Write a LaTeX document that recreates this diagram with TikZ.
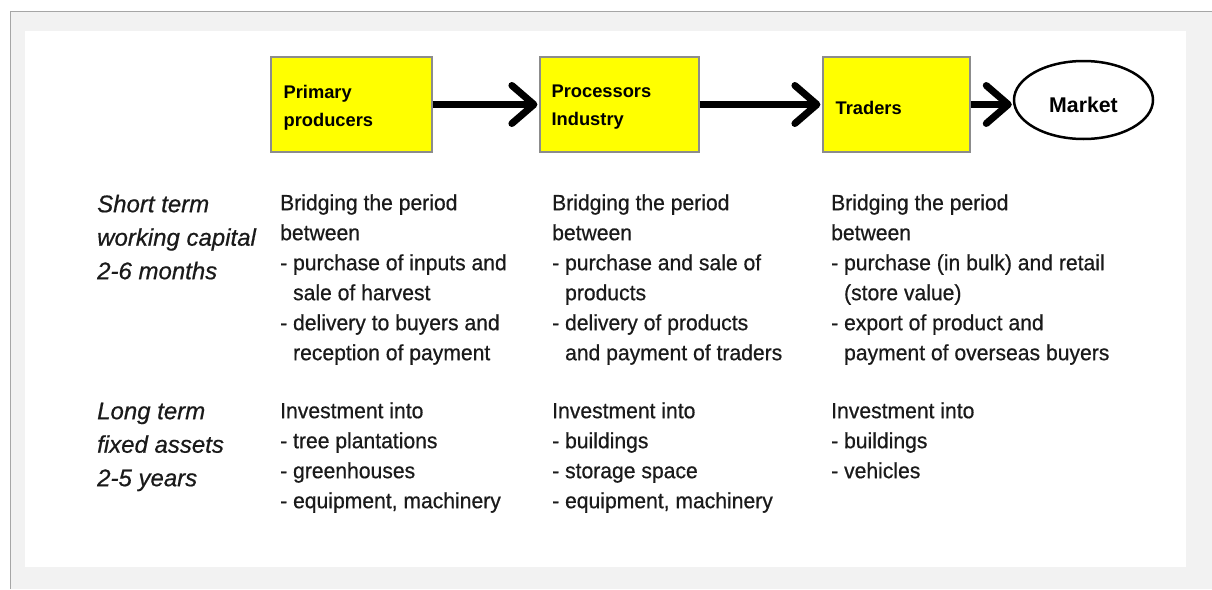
\documentclass[tikz,border=0pt]{standalone}
\usepackage{fontspec}
\setmainfont{Liberation Sans}
\newfontfamily\bodyfont[FakeStretch=0.96,FakeBold=0.6]{Liberation Sans}
\newfontfamily\termfont[FakeBold=0.6]{Liberation Sans Italic}
\usetikzlibrary{arrows.meta,shapes.geometric}
\definecolor{bggrey}{HTML}{F2F2F2}
\definecolor{edgegrey}{HTML}{A6A6A6}
\definecolor{boxedge}{HTML}{8C8C8C}
\definecolor{boxfill}{HTML}{FFFF00}
\definecolor{textgrey}{HTML}{1A1A1A}
\newcommand\firstline{\rule{0pt}{20pt}}
\newcommand\myind{\hphantom{- }}
\begin{document}
\begin{tikzpicture}[x=1pt,y=-1pt,
  stage/.style={draw=boxedge,fill=boxfill,line width=1.2pt,minimum height=95pt,inner sep=0pt},
  stagelabel/.style={anchor=west,inner sep=0pt,align=left,font=\bfseries\fontsize{18.3}{28}\selectfont},
  flow/.style={line width=7pt,-{Straight Barb[length=22pt,width=38pt,round]}},
  body/.style={anchor=north west,inner sep=0pt,align=left,text=textgrey,font=\bodyfont\fontsize{22}{30}\selectfont},
  term/.style={anchor=north west,inner sep=0pt,align=left,text=textgrey,font=\termfont\fontsize{24}{33.5}\selectfont}]
\useasboundingbox (0,0) rectangle (1212,589);
\fill[white] (0,0) rectangle (1212,589);
\fill[bggrey] (10.5,11.5) rectangle (1212,589);
\draw[edgegrey,line width=1.2pt] (10.5,589) -- (10.5,11.5) -- (1212,11.5);
\fill[white] (25,31) rectangle (1186,567);
% stages
\node[stage,minimum width=161pt] (pp) at (351.5,104.5) {};
\node[stage,minimum width=159pt] (pi) at (619.5,104.5) {};
\node[stage,minimum width=147pt] (tr) at (896.5,104.5) {};
\node[draw,ellipse,line width=2.5pt,minimum width=139pt,minimum height=78pt,inner sep=0pt] (mk) at (1083.5,100) {};
\node[inner sep=0pt,font=\bfseries\fontsize{21.3}{24}\selectfont] (mkl) at ([yshift=-4.5pt]mk.center) {Market};
\node[stagelabel] (ppl) at ([xshift=13pt,yshift=-3pt]pp.west) {Primary\\producers};
\node[stagelabel] (pil) at ([xshift=12pt,yshift=-3pt]pi.west) {Processors\\Industry};
\node[stagelabel] (trl) at ([xshift=13pt,yshift=-3pt]tr.west) {Traders};
\draw[flow] (pp.east) -- ([xshift=-2pt]pi.west);
\draw[flow] (pi.east) -- ([xshift=-2pt]tr.west);
\draw[flow] (tr.east) -- ([xshift=-1pt]mk.west |- tr.east);
% row labels
\node[term] (st) at (97,192) {\firstline Short term\\working capital\\2-6 months};
\node[term] (lt) at (97,399) {\firstline Long term\\fixed assets\\2-5 years};
% short term texts
\node[body] (s1) at (280,190) {\firstline Bridging the period\\between\\- purchase of inputs and\\\myind sale of harvest\\- delivery to buyers and\\\myind reception of payment};
\node[body] (s2) at (552,190) {\firstline Bridging the period\\between\\- purchase and sale of\\\myind products\\- delivery of products\\\myind and payment of traders};
\node[body] (s3) at (831,190) {\firstline Bridging the period\\between\\- purchase (in bulk) and retail\\\myind (store value)\\- export of product and\\\myind payment of overseas buyers};
% long term texts
\node[body] (l1) at (280,398) {\firstline Investment into\\- tree plantations\\- greenhouses\\- equipment, machinery};
\node[body] (l2) at (552,398) {\firstline Investment into\\- buildings\\- storage space\\- equipment, machinery};
\node[body] (l3) at (831,398) {\firstline Investment into\\- buildings\\- vehicles};
\end{tikzpicture}
\end{document}
